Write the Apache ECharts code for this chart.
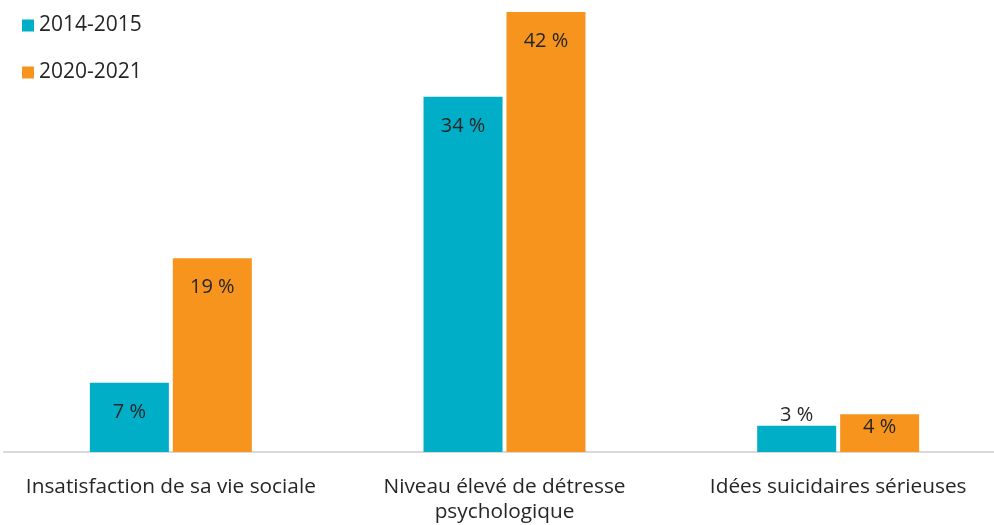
<!DOCTYPE html>
<html>
<head>
<meta charset="utf-8">
<script src="https://cdn.jsdelivr.net/npm/echarts@6/dist/echarts.min.js"></script>
<style>
html,body{margin:0;padding:0;background:#fff;}
#c{width:994px;height:525px;}
</style>
</head>
<body>
<div id="c"></div>
<script>
const categories = ['Insatisfaction de sa vie sociale', 'Niveau élevé de détresse\npsychologique', 'Idées suicidaires sérieuses'];
const seriesNames = ['2014-2015', '2020-2021'];
const values2014 = [6.6, 33.9, 2.5];
const values2020 = [18.5, 42.0, 3.6];
const colors = ['#00AEC7', '#F7941D'];
const FONT = "'Open Sans', sans-serif";

function mk(vals) {
  return vals.map(v => {
    let label;
    if (v < 3) label = { position: 'top', distance: 1 };
    else if (v < 5) label = { position: 'insideTop', distance: 3 };
    else label = { position: 'insideTop', distance: 19 };
    return { value: v, label: label };
  });
}

const chart = echarts.init(document.getElementById('c'));
chart.setOption({
  animation: false,
  grid: { left: 4, right: -11, top: 12, bottom: 73, outerBoundsMode: 'none', containLabel: false },
  legend: {
    orient: 'vertical', left: 17, top: 10, itemGap: 26,
    itemWidth: 12, itemHeight: 12, icon: 'rect',
    textStyle: { fontFamily: FONT, fontSize: 21, color: '#262626' },
    data: seriesNames
  },
  xAxis: {
    type: 'category', data: categories,
    axisLine: { lineStyle: { color: '#d9d9d9', width: 2 } },
    axisTick: { show: false },
    axisLabel: { fontFamily: FONT, fontSize: 20.8, color: '#262626', margin: 23, lineHeight: 25, interval: 0 }
  },
  yAxis: { type: 'value', min: 0, max: 42, show: false, splitLine: { show: false } },
  series: [
    { name: seriesNames[0], type: 'bar', data: mk(values2014), barWidth: 79, barGap: '5%',
      itemStyle: { color: colors[0] },
      label: { show: true, fontFamily: FONT, fontSize: 20, color: '#262626', formatter: p => Math.round(p.value) + ' %' } },
    { name: seriesNames[1], type: 'bar', data: mk(values2020), barWidth: 79, barGap: '5%',
      itemStyle: { color: colors[1] },
      label: { show: true, fontFamily: FONT, fontSize: 20, color: '#262626', formatter: p => Math.round(p.value) + ' %' } }
  ]
});
</script>
</body>
</html>
